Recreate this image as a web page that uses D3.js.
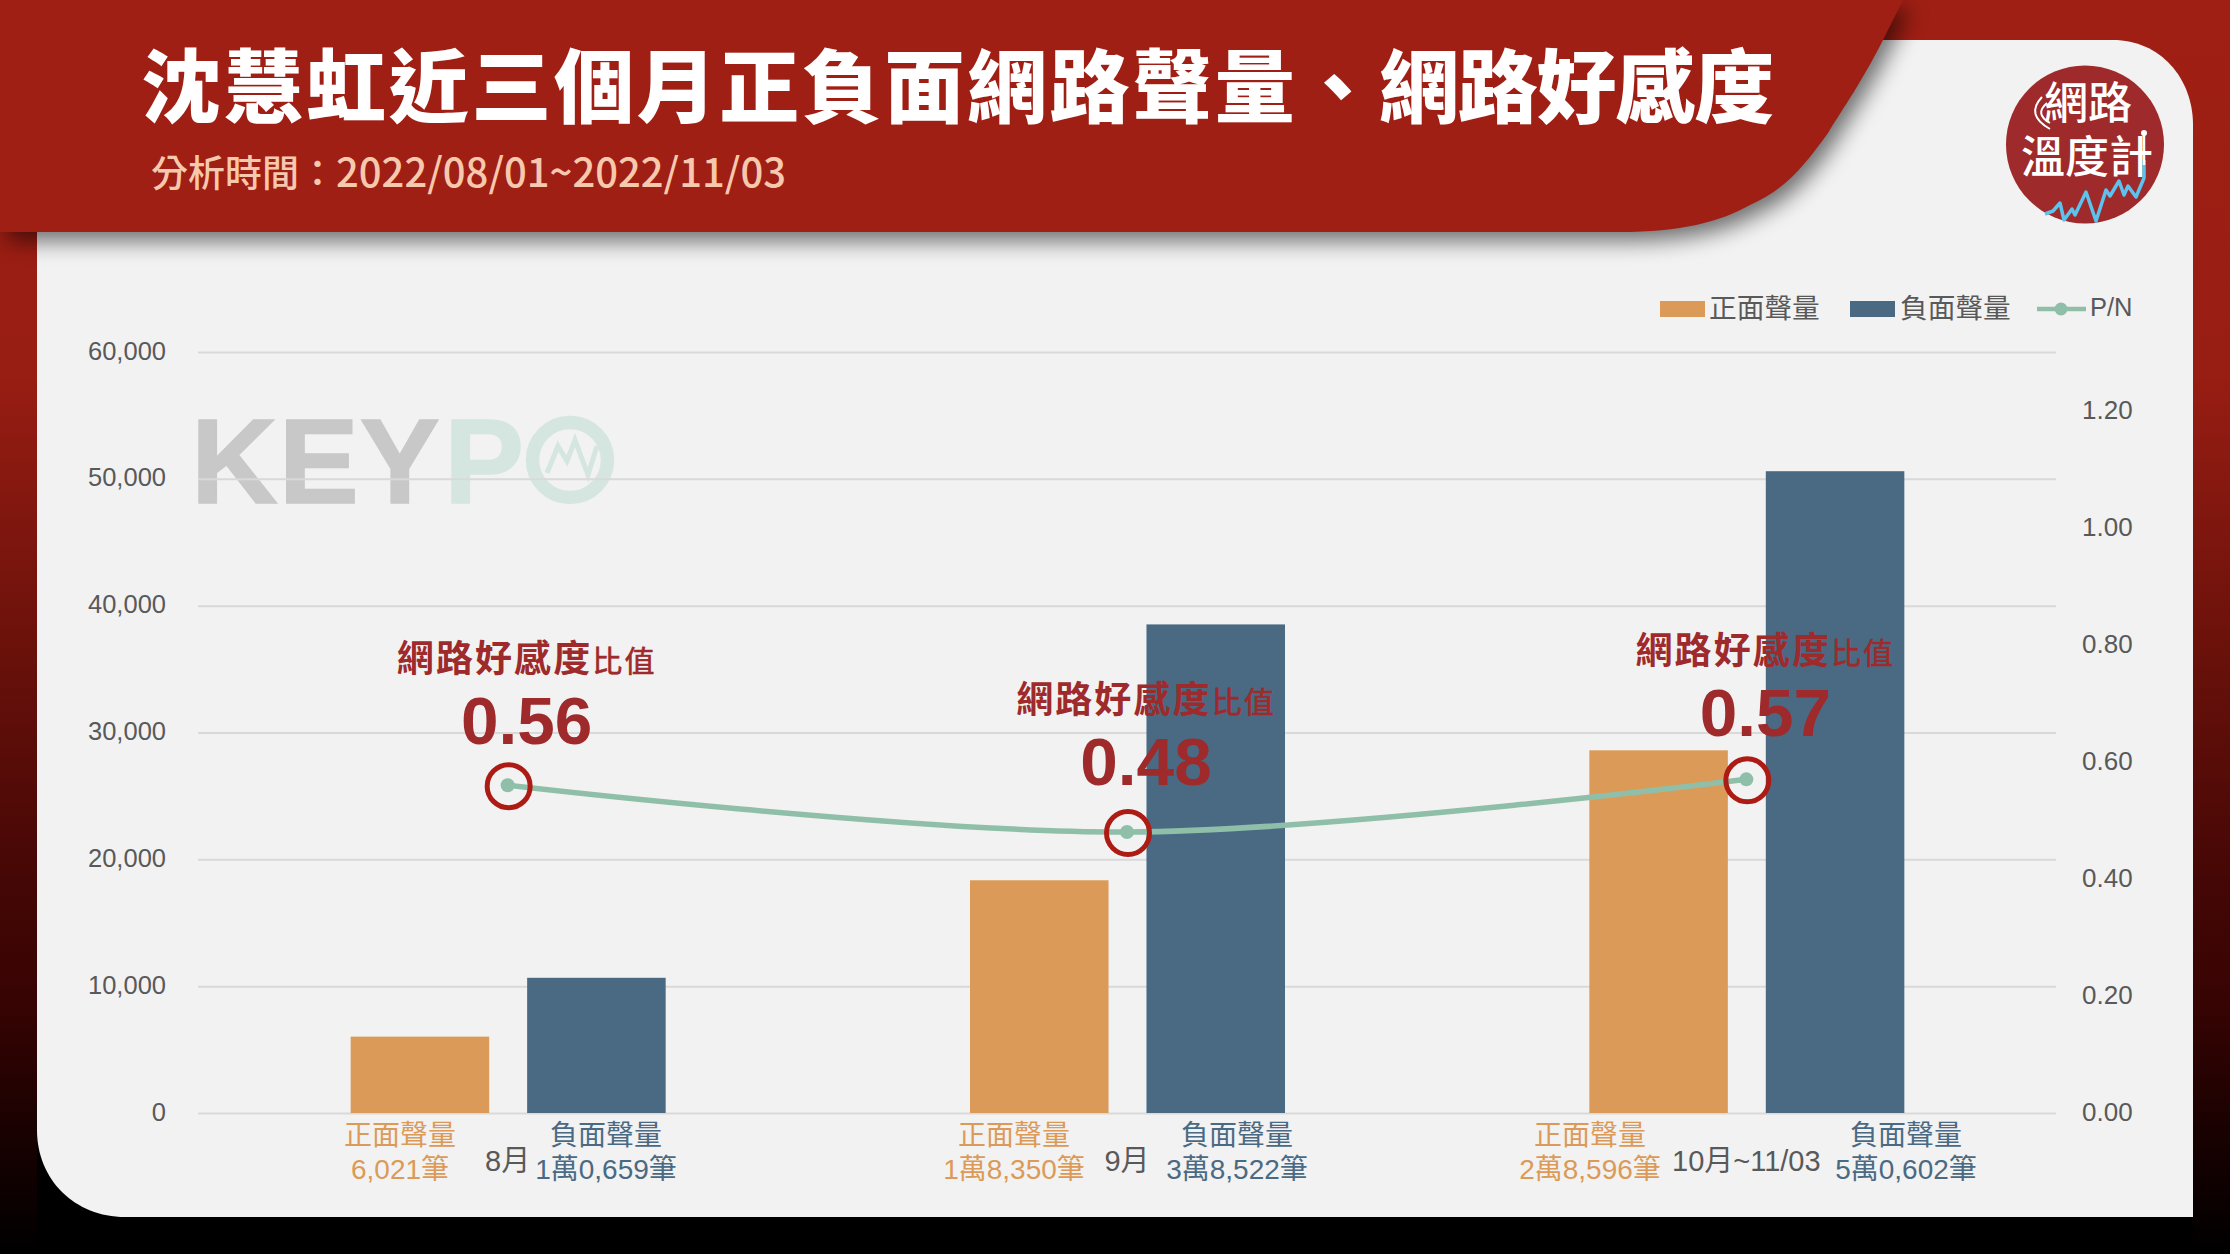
<!DOCTYPE html>
<html><head><meta charset="utf-8">
<script src="https://cdn.jsdelivr.net/npm/d3@7"></script>
<style>html,body{margin:0;padding:0;background:#000}svg{display:block}</style>
</head><body><svg id="c" width="2230" height="1254" viewBox="0 0 2230 1254"></svg>
<script>
const categories = ["8月","9月","10月~11/03"];
const seriesNames = ["正面聲量","負面聲量"];
const positive = [6021,18350,28596];
const negative = [10659,38522,50602];
const ratio = [0.56,0.48,0.57];
const ratioLabels = ["0.56","0.48","0.57"];
const leftTicks = [0,10000,20000,30000,40000,50000,60000];
const rightTicks = [0,0.2,0.4,0.6,0.8,1.0,1.2];
const titleParts = ["沈慧虹近三個月正負面網路聲量","、","網路好感度"];
const subtitleParts = ["分析時間：","2022/08/01~2022/11/03"];

const FONT = "'Liberation Sans','Noto Sans CJK TC',sans-serif";
const CJK = "'Noto Sans CJK TC','Liberation Sans',sans-serif";
const C = {pos:"#dc9a58",neg:"#4a6a84",line:"#8fbfa8",red:"#9e2a2b",ring:"#ad1c14",head:"#a01f14",card:"#f2f2f2",grid:"#d9d9d9",text:"#595959"};

const svg = d3.select("#c");
const defs = svg.append("defs");
const bg = defs.append("linearGradient").attr("id","bg").attr("x1",0).attr("y1",0).attr("x2",0).attr("y2",1);
[[0,"#a01f14"],[0.3,"#981d13"],[0.5,"#6e120b"],[0.7,"#450705"],[0.8,"#370403"],[0.9,"#1a0101"],[1,"#000"]].forEach(s=>bg.append("stop").attr("offset",s[0]).attr("stop-color",s[1]));
defs.append("filter").attr("id","blur").attr("x","-10%").attr("y","-30%").attr("width","120%").attr("height","170%")
  .append("feGaussianBlur").attr("stdDeviation",11);

svg.append("rect").attr("width",2230).attr("height",1254).attr("fill","url(#bg)");
svg.append("rect").attr("x",37).attr("y",1100).attr("width",2156).attr("height",154).attr("fill","#000");
// card
svg.append("path").attr("fill",C.card)
  .attr("d","M37,40 L2113,40 C2160,40 2193,78 2193,125 L2193,1217 L125,1217 C75,1217 37,1180 37,1130 Z");
// header + shadow
const headerPath = "M0,0 L1903,0 L1883,40 C1860,85 1845,105 1828,133 C1805,165 1785,190 1750,205 C1720,222 1680,232 1620,232 L0,232 Z";
svg.append("path").attr("d",headerPath).attr("fill","#000").attr("opacity",0.55).attr("filter","url(#blur)").attr("transform","translate(7,9)");
svg.append("path").attr("d",headerPath).attr("fill",C.head);

const title = svg.append("text").attr("x",141).attr("y",116).attr("fill","#fff").style("font",`800 80px ${CJK}`);
title.append("tspan").style("letter-spacing","2.6px").text(titleParts[0]);
title.append("tspan").style("letter-spacing","1.6px").text(titleParts[1]);
title.append("tspan").style("letter-spacing","-1.2px").text(titleParts[2]);
const sub = svg.append("text").attr("x",151).attr("y",187).attr("fill","#f6c9ae").style("font",`500 37px ${CJK}`);
sub.append("tspan").text(subtitleParts[0]);
sub.append("tspan").style("font-size","40px").text(subtitleParts[1]);

// logo
const logo = svg.append("g");
logo.append("circle").attr("cx",2085).attr("cy",144.5).attr("r",79).attr("fill",C.red);
logo.append("text").attr("x",2088).attr("y",119).attr("text-anchor","middle").attr("fill","#fff").style("font",`500 44px ${CJK}`).text("網路");
logo.append("text").attr("x",2087).attr("y",173).attr("text-anchor","middle").attr("fill","#fff").style("font",`500 44px ${CJK}`).text("溫度計");
logo.append("path").attr("fill","none").attr("stroke","#5cc3ee").attr("stroke-width",3.5).attr("stroke-linejoin","round")
  .attr("d","M2045,214 L2053,211 L2060,203 L2064,220 L2072,209 L2075,215 L2086,192 L2096,221 L2106,190 L2110,196 L2119,181 L2124,195 L2128,186 L2136,197 L2144,178 L2144,160");
logo.append("path").attr("fill","none").attr("stroke","#fff").attr("stroke-width",2.5).attr("d","M2144,133 L2144,165");
logo.append("circle").attr("cx",2144).attr("cy",133).attr("r",3).attr("fill","#fff");
logo.append("path").attr("fill","none").attr("stroke","#fff").attr("stroke-width",2).attr("d","M2042,97 Q2025,115 2050,129 M2047,103 Q2034,114 2050,123");

// scales
const margin = {left:198,right:2056,top:352,bottom:1113};
const x0 = d3.scaleBand().domain(categories).range([margin.left,margin.right]);
const x1 = d3.scaleBand().domain(seriesNames).range([-157,158]).paddingInner(0.215);
const yL = d3.scaleLinear().domain([0,60000]).range([margin.bottom,margin.top]);
const yR = d3.scaleLinear().domain([0,1.3]).range([margin.bottom,margin.top]);
const cx = c => x0(c)+x0.bandwidth()/2;

// watermark
const wm = svg.append("g").style("stroke-width",1.5);
wm.append("text").attr("x",191).attr("y",503).attr("fill","#c8c8c9").attr("stroke","#c8c8c9").style("font",`700 120px ${FONT}`).style("letter-spacing","1px").text("KEY");
wm.append("text").attr("x",444).attr("y",503).attr("fill","#d5e6e1").attr("stroke","#d5e6e1").style("font",`700 120px ${FONT}`).text("P");
wm.append("circle").attr("cx",570).attr("cy",460).attr("r",37.5).attr("fill","none").attr("stroke","#d5e6e1").attr("stroke-width",13.5);
wm.append("path").attr("fill","none").attr("stroke","#d5e6e1").attr("stroke-width",5)
  .attr("d","M547,473 L558,446 L567,461 L575,440 L588,475 L597,446");

// grid + axes
const axL = svg.append("g").attr("transform",`translate(${margin.left},0)`)
  .call(d3.axisLeft(yL).tickValues(leftTicks).tickFormat(d3.format(",")).tickSize(-(margin.right-margin.left)).tickPadding(32));
axL.select(".domain").remove();
axL.selectAll("line").attr("stroke",C.grid).attr("stroke-width",2);
axL.selectAll("text").attr("fill",C.text).attr("dy","0.28em").style("font",`25.5px ${FONT}`);
const axR = svg.append("g").attr("transform",`translate(${margin.right},0)`)
  .call(d3.axisRight(yR).tickValues(rightTicks).tickFormat(d3.format(".2f")).tickSize(0).tickPadding(26));
axR.select(".domain").remove();
axR.selectAll("text").attr("fill",C.text).attr("dy","0.3em").style("font",`26px ${FONT}`);
const axB = svg.append("g").attr("transform",`translate(0,1171)`)
  .call(d3.axisBottom(x0).tickSize(0).tickPadding(0));
axB.select(".domain").remove();
axB.selectAll("text").attr("fill",C.text).attr("dy",0).attr("y",0).style("font",`29px ${FONT}`);

// bars
const rows = categories.map((c,i)=>({c,vals:[positive[i],negative[i]]}));
const groups = svg.append("g").selectAll("g").data(rows).join("g").attr("transform",d=>`translate(${cx(d.c)},0)`);
groups.selectAll("rect").data(d=>d.vals.map((v,i)=>({v,s:seriesNames[i]}))).join("rect")
  .attr("x",d=>x1(d.s)).attr("width",x1.bandwidth())
  .attr("y",d=>yL(d.v)).attr("height",d=>yL(0)-yL(d.v))
  .attr("fill",(d,i)=>i?C.neg:C.pos);

// line
const pts = categories.map((c,i)=>[cx(c),yR(ratio[i])]);
svg.append("path").attr("fill","none").attr("stroke",C.line).attr("stroke-width",5.5)
  .attr("d",d3.line().curve(d3.curveCatmullRom)(pts));
svg.append("g").selectAll("circle").data(pts).join("circle").attr("cx",d=>d[0]).attr("cy",d=>d[1]).attr("r",7).attr("fill",C.line);
svg.append("g").selectAll("circle").data(pts).join("circle").attr("cx",d=>d[0]+1).attr("cy",d=>d[1]+1).attr("r",21.5)
  .attr("fill","none").attr("stroke",C.ring).attr("stroke-width",5);

// ratio callouts
const calloutDx = [19,19,19], calloutDy = [0,41,-8];
const callouts = svg.append("g").selectAll("g").data(pts).join("g")
  .attr("transform",(d,i)=>`translate(${d[0]+calloutDx[i]},${672+calloutDy[i]})`);
const lab = callouts.append("text").attr("text-anchor","middle").attr("fill",C.red).style("font",`700 37px ${FONT}`).style("letter-spacing","2.1px");
lab.append("tspan").text("網路好感度");
lab.append("tspan").style("font-size","30px").style("font-weight",400).style("stroke",C.red).style("stroke-width",0.6).text("比值");
callouts.append("text").attr("text-anchor","middle").attr("y",72).attr("fill",C.red).style("font",`700 67.5px ${FONT}`).text((d,i)=>ratioLabels[i]);

// bar captions
const fmt = v => { const w=Math.floor(v/10000), r=v%10000; return w? `${w}萬${String(r).padStart(4,"0").replace(/^(\d)/,"$1,")}筆` : `${d3.format(",")(r)}筆`; };
const capX = {pos:[400,1014,1590],neg:[606,1237,1906]};
[["pos",positive,C.pos,seriesNames[0]],["neg",negative,C.neg,seriesNames[1]]].forEach(([k,vals,col,name])=>{
  const g = svg.append("g").selectAll("g").data(vals).join("g").attr("transform",(d,i)=>`translate(${capX[k][i]},0)`)
    .attr("text-anchor","middle").attr("fill",col).style("font",`28px ${FONT}`);
  g.append("text").attr("y",1145).text(name);
  g.append("text").attr("y",1179).text(d=>fmt(d));
});

// legend
const lg = svg.append("g");
lg.append("rect").attr("x",1660).attr("y",301).attr("width",45).attr("height",16).attr("fill",C.pos);
lg.append("text").attr("x",1709).attr("y",318).attr("fill",C.text).style("font",`27.7px ${CJK}`).text(seriesNames[0]);
lg.append("rect").attr("x",1850).attr("y",301).attr("width",45).attr("height",16).attr("fill",C.neg);
lg.append("text").attr("x",1900).attr("y",318).attr("fill",C.text).style("font",`27.7px ${CJK}`).text(seriesNames[1]);
lg.append("line").attr("x1",2037).attr("x2",2086).attr("y1",309).attr("y2",309).attr("stroke",C.line).attr("stroke-width",4.5);
lg.append("circle").attr("cx",2061).attr("cy",309).attr("r",6.5).attr("fill",C.line);
lg.append("text").attr("x",2090).attr("y",316).attr("fill",C.text).style("font",`25.5px ${FONT}`).text("P/N");
</script></body></html>
